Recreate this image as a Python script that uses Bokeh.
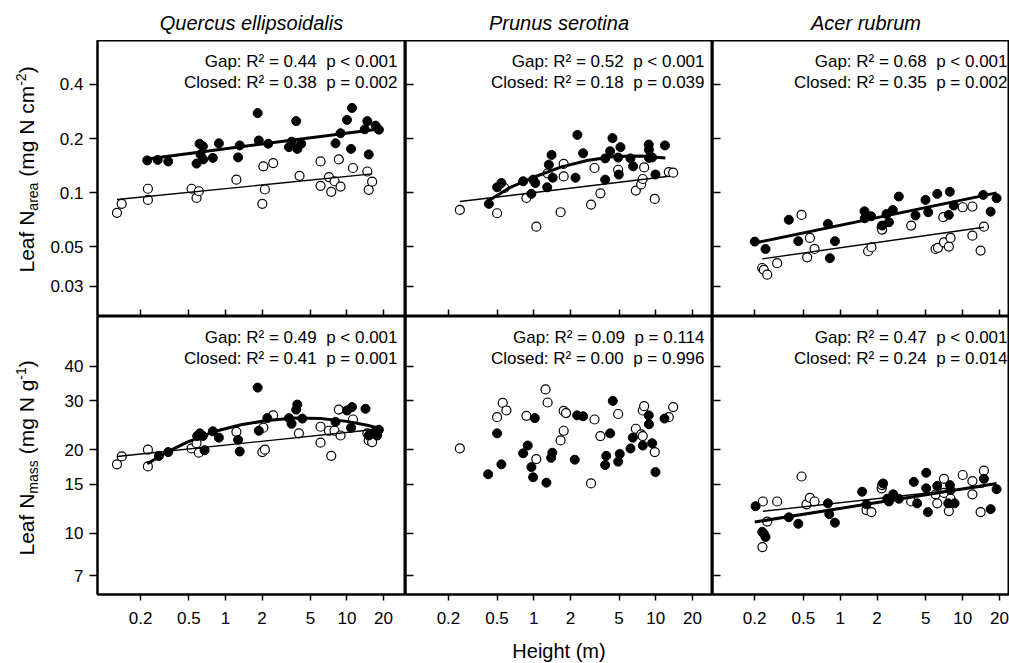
import math
from bokeh.plotting import figure
from bokeh.layouts import row, column
from bokeh.models import FixedTicker, NumeralTickFormatter, Label, Range1d
from bokeh.embed import file_html
from bokeh.resources import INLINE

FONT = "Liberation Sans"
NB = "\u00a0"
BASE_SHIFT = 0.36   # Bokeh draws these labels ~0.36 em lower than the anchor; compensate

# ---------------- data ----------------
species = ["Quercus ellipsoidalis", "Prunus serotina", "Acer rubrum"]
x_ticks = [0.2, 0.5, 1, 2, 5, 10, 20]
area_ticks = [0.03, 0.05, 0.1, 0.2, 0.4]
mass_ticks = [7, 10, 15, 20, 30, 40]
x_title = "Height (m)"

# Quercus ellipsoidalis, Leaf N area
qe_area_gap_h = [0.227, 0.277, 0.338, 0.612, 0.652, 0.578, 0.656, 0.624, 0.787, 0.883, 1.31, 1.27, 1.84, 1.88, 2.25,
                 3.33, 3.50, 3.82, 3.90, 4.20, 8.05, 8.85, 10.0, 11.0, 10.8, 14.7, 14.0, 15.1, 17.2, 18.3]
qe_area_gap_v = [0.151, 0.152, 0.149, 0.187, 0.181, 0.145, 0.153, 0.163, 0.156, 0.188, 0.183, 0.157, 0.277, 0.195, 0.187,
                 0.179, 0.192, 0.250, 0.175, 0.187, 0.188, 0.214, 0.254, 0.296, 0.175, 0.250, 0.225, 0.163, 0.236, 0.224]
qe_area_closed_h = [0.128, 0.140, 0.230, 0.230, 0.526, 0.578, 0.604, 1.23, 2.01, 2.05, 2.11, 2.47, 4.07, 6.06, 6.06,
                    7.10, 7.42, 7.90, 8.57, 8.85, 11.2, 14.7, 15.1, 16.1]
qe_area_closed_v = [0.0771, 0.0865, 0.105, 0.0910, 0.105, 0.0934, 0.1017, 0.118, 0.0865, 0.140, 0.104, 0.146, 0.124,
                    0.149, 0.109, 0.122, 0.101, 0.1156, 0.153, 0.108, 0.137, 0.131, 0.1035, 0.115]
qe_area_gap_fit_h = [0.227, 17.8]
qe_area_gap_fit_v = [0.154, 0.2255]
qe_area_closed_fit_h = [0.128, 16.1]
qe_area_closed_fit_v = [0.0914, 0.127]
qe_area_stats = [("0.44", "< 0.001"), ("0.38", "= 0.002")]

# Prunus serotina, Leaf N area
ps_area_gap_h = [0.429, 0.501, 0.543, 0.819, 0.989, 1.03, 0.957, 1.29, 1.33, 1.40, 1.43, 2.20, 2.28, 2.54, 3.85, 3.85,
                 4.23, 4.42, 4.92, 4.98, 5.14, 6.21, 6.53, 8.77, 8.8, 8.8, 9.35, 9.95, 11.9]
ps_area_gap_v = [0.0865, 0.107, 0.113, 0.1156, 0.118, 0.113, 0.0984, 0.107, 0.143, 0.162, 0.121, 0.121, 0.2095, 0.1656,
                 0.118, 0.155, 0.170, 0.201, 0.1567, 0.126, 0.179, 0.155, 0.140, 0.185, 0.173, 0.156, 0.157, 0.126, 0.183]
ps_area_closed_h = [0.248, 0.501, 0.575, 0.871, 1.05, 1.30, 1.66, 1.76, 1.76, 2.95, 3.15, 3.52, 4.92, 6.87, 7.59, 7.83,
                    8.04, 9.82, 12.8, 13.9]
ps_area_closed_v = [0.080, 0.0767, 0.106, 0.0934, 0.0646, 0.128, 0.0777, 0.1445, 0.123, 0.0857, 0.137, 0.099, 0.134,
                    0.1026, 0.111, 0.119, 0.138, 0.0922, 0.130, 0.129]
ps_area_gap_fit_h = [0.429, 0.644, 1.0, 1.66, 2.74, 4.53, 7.5, 12.0]
ps_area_gap_fit_v = [0.0902, 0.107, 0.1217, 0.1385, 0.1508, 0.159, 0.160, 0.156]
ps_area_closed_fit_h = [0.248, 12.8]
ps_area_closed_fit_v = [0.0891, 0.1233]
ps_area_stats = [("0.52", "< 0.001"), ("0.18", "= 0.039")]

# Acer rubrum, Leaf N area
ar_area_gap_h = [0.201, 0.246, 0.381, 0.455, 0.794, 0.824, 0.906, 1.58, 1.59, 1.79, 2.20, 2.39, 2.50, 2.69, 3.01, 4.12,
                 4.97, 5.23, 6.20, 7.71, 7.86, 8.47, 14.7, 16.9, 18.9]
ar_area_gap_v = [0.0533, 0.0485, 0.0705, 0.0536, 0.0669, 0.0431, 0.0536, 0.0787, 0.0719, 0.0738, 0.0655, 0.0760,
                 0.0683, 0.080, 0.095, 0.0745, 0.091, 0.0777, 0.0984, 0.0751, 0.101, 0.0847, 0.097, 0.0783, 0.093]
ar_area_closed_h = [0.231, 0.238, 0.254, 0.306, 0.484, 0.538, 0.566, 0.618, 1.69, 1.80, 2.18, 2.2, 3.80, 6.01, 6.28,
                    6.94, 7.03, 7.71, 7.96, 10.0, 12.0, 12.0, 14.0, 14.9]
ar_area_closed_v = [0.038, 0.0371, 0.0349, 0.0404, 0.0751, 0.0436, 0.0559, 0.0485, 0.0471, 0.0496, 0.0641, 0.0622,
                    0.0655, 0.0485, 0.0492, 0.0729, 0.0528, 0.050, 0.0559, 0.0828, 0.0836, 0.0575, 0.0475, 0.0646]
ar_area_gap_fit_h = [0.201, 18.9]
ar_area_gap_fit_v = [0.0524, 0.0996]
ar_area_closed_fit_h = [0.231, 14.9]
ar_area_closed_fit_v = [0.0427, 0.0641]
ar_area_stats = [("0.68", "< 0.001"), ("0.35", "= 0.002")]

# Quercus ellipsoidalis, Leaf N mass
qe_mass_gap_h = [0.283, 0.338, 0.585, 0.615, 0.652, 0.673, 0.787, 0.883, 1.27, 1.31, 1.84, 1.88, 2.21, 3.33, 3.50,
                 3.90, 3.82, 4.29, 8.05, 10.0, 11.0, 10.8, 14.2, 15.1, 17.7, 18.3, 16.6]
qe_mass_gap_v = [18.97, 19.6, 22.4, 22.9, 22.4, 19.9, 23.3, 22.1, 21.7, 19.7, 33.5, 23.4, 26.0, 26.0, 24.8, 29.1, 27.9,
                 25.9, 25.2, 27.7, 28.5, 24.0, 28.1, 22.5, 22.5, 23.6, 23.0]
qe_mass_closed_h = [0.128, 0.140, 0.230, 0.230, 0.526, 0.578, 0.604, 1.23, 2.01, 2.05, 2.11, 2.47, 4.02, 6.06, 6.06,
                    7.10, 7.42, 7.90, 8.57, 8.85, 11.2, 14.7, 15.1, 16.1]
qe_mass_closed_v = [17.7, 18.9, 20.0, 17.4, 20.2, 21.1, 19.5, 23.2, 19.6, 24.0, 20.0, 26.6, 22.9, 24.2, 21.2, 23.4,
                    19.0, 23.4, 27.9, 22.5, 25.7, 22.9, 21.6, 21.3]
qe_mass_gap_fit_h = [0.227, 0.330, 0.484, 0.797, 1.34, 2.21, 3.66, 6.06, 10.0, 14.7, 18.9]
qe_mass_gap_fit_v = [17.8, 19.6, 21.3, 23.2, 24.6, 25.5, 26.0, 25.9, 25.3, 24.5, 23.8]
qe_mass_closed_fit_h = [0.128, 16.1]
qe_mass_closed_fit_v = [18.9, 23.6]
qe_mass_stats = [("0.49", "< 0.001"), ("0.41", "= 0.001")]

# Prunus serotina, Leaf N mass
ps_mass_gap_h = [0.423, 0.501, 0.543, 0.819, 0.893, 0.957, 0.989, 1.02, 1.27, 1.39, 1.42, 2.17, 2.27, 2.54, 3.85, 3.93,
                 4.23, 4.45, 4.92, 5.07, 6.21, 6.48, 7.83, 8.77, 8.8, 9.35, 9.95, 11.8]
ps_mass_gap_v = [16.3, 22.9, 17.7, 19.4, 20.7, 17.3, 15.9, 26.0, 15.2, 18.7, 19.5, 18.4, 26.6, 26.4, 17.6, 19.0, 22.9,
                 30.0, 18.1, 19.3, 20.2, 22.1, 20.7, 26.6, 24.7, 21.1, 16.6, 25.9]
ps_mass_closed_h = [0.248, 0.501, 0.557, 0.597, 0.871, 1.05, 1.25, 1.30, 1.66, 1.76, 1.76, 1.84, 2.95, 3.15, 3.52, 4.92,
                    6.87, 7.59, 7.83, 7.83, 8.04, 9.82, 12.8, 13.9]
ps_mass_closed_v = [20.2, 26.2, 29.5, 27.7, 26.5, 18.5, 33.0, 29.6, 21.6, 23.4, 27.6, 27.1, 15.1, 25.7, 22.4, 26.9,
                    23.8, 22.7, 22.4, 27.7, 28.7, 19.6, 26.2, 28.5]
ps_mass_stats = [("0.09", "= 0.114"), ("0.00", "= 0.996")]

# Acer rubrum, Leaf N mass
ar_mass_gap_h = [0.204, 0.231, 0.238, 0.246, 0.381, 0.455, 0.794, 0.815, 0.906, 1.51, 1.64, 2.24, 2.42, 2.50, 2.71,
                 3.01, 3.99, 4.25, 5.04, 5.04, 5.20, 6.20, 7.62, 7.86, 7.96, 8.59, 14.9, 16.9, 18.9]
ar_mass_gap_v = [12.5, 10.1, 9.95, 9.68, 11.4, 10.8, 12.8, 11.7, 10.9, 14.1, 12.7, 15.1, 13.3, 13.0, 13.8, 13.3, 15.3,
                 12.8, 16.5, 14.5, 11.9, 14.8, 12.8, 14.9, 14.3, 12.8, 15.7, 12.2, 14.4]
ar_mass_closed_h = [0.234, 0.232, 0.254, 0.306, 0.484, 0.531, 0.566, 0.618, 1.64, 1.80, 2.18, 2.2, 3.80, 6.01, 6.20,
                    7.03, 7.03, 7.71, 7.96, 10.0, 12.0, 12.0, 14.0, 14.9]
ar_mass_closed_v = [13.0, 8.9, 11.0, 13.0, 16.0, 12.7, 13.4, 13.0, 12.1, 11.9, 14.5, 14.9, 13.0, 13.8, 12.8, 15.7,
                    13.96, 12.0, 13.3, 16.2, 15.4, 13.8, 11.9, 16.8]
ar_mass_gap_fit_h = [0.201, 18.9]
ar_mass_gap_fit_v = [10.96, 15.1]
ar_mass_closed_fit_h = [0.234, 14.9]
ar_mass_closed_fit_v = [11.98, 14.7]
ar_mass_stats = [("0.47", "< 0.001"), ("0.24", "= 0.014")]

# ---------------- layout ----------------
LEFT_W = 45            # strip holding the y-axis titles
TOP_H = 40             # strip holding the species names
BOTTOM_H = 30          # strip holding the x-axis title
COL_W = [360, 307, 297]
COL_BORDER = [52, 0, 0]
ROW_H = [276, 317]
ROW_BORDER_BOTTOM = [0, 39]
X_RANGES = [(0.0885, 30.3), (0.0889, 29.2), (0.0908, 24.1)]
COL_FULL_W = [308, 307, 307]    # width each panel would have if not cropped at the page edge
Y_RANGES = [(0.0204, 0.703), (6.0, 60.5)]
Y_TICKS = [area_ticks, mass_ticks]
STAT_SIZE = 17


def stat_lines(stats):
    (r_gap, p_gap), (r_cl, p_cl) = stats
    return [f"Gap: R\u00b2 = {r_gap}{NB}{NB}p {p_gap}", f"Closed: R\u00b2 = {r_cl}{NB}{NB}p {p_cl}"]


def make_panel(r, c, gap, closed, gap_fit, closed_fit, stats):
    p = figure(width=COL_W[c], height=ROW_H[r],
               x_axis_type="log", y_axis_type="log",
               x_range=X_RANGES[c], y_range=Y_RANGES[r],
               output_backend="svg", toolbar_location=None, title=None,
               min_border_left=COL_BORDER[c], min_border_right=0,
               min_border_top=0, min_border_bottom=ROW_BORDER_BOTTOM[r],
               background_fill_color="white", border_fill_color="white")
    p.grid.visible = False
    p.outline_line_color = "black"
    p.outline_line_width = 2

    xa = p.xaxis[0]
    xa.ticker = FixedTicker(ticks=x_ticks, minor_ticks=[])
    xa.axis_line_width = 2
    xa.major_tick_line_width = 1.5
    xa.minor_tick_in = 0
    xa.minor_tick_out = 0
    if r == 0:
        xa.major_tick_in = 7
        xa.major_tick_out = 0
        xa.major_label_overrides = {t: "" for t in x_ticks}
        xa.major_label_text_font_size = "0px"
        xa.major_label_standoff = 0
    else:
        xa.major_tick_in = 0
        xa.major_tick_out = 6
        xa.formatter = NumeralTickFormatter(format="0.[00]")
        xa.major_label_text_font = FONT
        xa.major_label_text_font_size = "17px"
        xa.major_label_text_color = "black"
        xa.major_label_standoff = 11

    ya = p.yaxis[0]
    ya.ticker = FixedTicker(ticks=Y_TICKS[r], minor_ticks=[])
    ya.axis_line_width = 2
    ya.major_tick_line_width = 1.5
    ya.minor_tick_in = 0
    ya.minor_tick_out = 0
    if c == 0:
        ya.major_tick_in = 0
        ya.major_tick_out = 8
        ya.formatter = NumeralTickFormatter(format="0.[00]")
        ya.major_label_text_font = FONT
        ya.major_label_text_font_size = "17px"
        ya.major_label_text_color = "black"
        ya.major_label_standoff = 6
    else:
        ya.major_tick_in = 8
        ya.major_tick_out = 0
        ya.major_label_overrides = {t: "" for t in Y_TICKS[r]}
        ya.major_label_text_font_size = "0px"
        ya.major_label_standoff = 0

    p.scatter(closed[0], closed[1], marker="circle", size=9, fill_color="white",
              line_color="black", line_width=1.2)
    p.scatter(gap[0], gap[1], marker="circle", size=9, fill_color="black",
              line_color="black", line_width=1)
    if closed_fit is not None:
        p.line(closed_fit[0], closed_fit[1], line_width=1.4, line_color="black")
    if gap_fit is not None:
        p.line(gap_fit[0], gap_fit[1], line_width=3, line_color="black")

    xe = X_RANGES[c][1]
    x_off = -8 if c < 2 else -2
    shift = BASE_SHIFT * STAT_SIZE
    for txt, yoff in zip(stat_lines(stats), [-27, -48]):
        p.add_layout(Label(x=xe, y=Y_RANGES[r][1], x_offset=x_off, y_offset=yoff + shift, text=txt,
                           text_align="right", text_baseline="alphabetic", text_font=FONT,
                           text_font_size=f"{STAT_SIZE}px", text_color="black"))
    return p


def strip(width, height):
    s = figure(width=width, height=height, output_backend="svg", toolbar_location=None, title=None,
               x_axis_location=None, y_axis_location=None,
               x_range=Range1d(0, width), y_range=Range1d(height, 0),
               min_border_left=0, min_border_right=0, min_border_top=0, min_border_bottom=0,
               background_fill_color="white", border_fill_color="white")
    s.grid.visible = False
    s.outline_line_color = None
    return s


# Arial / Liberation Sans advance widths (per 1000 em)
ADV = {"L": 556, "e": 556, "a": 556, "f": 278, " ": 278, "N": 722, "r": 333, "m": 833, "s": 500,
       "(": 333, ")": 333, "g": 556, "c": 500, "-": 333, "1": 556, "2": 556}


def text_width(s, size):
    return sum(ADV.get(ch, 556) for ch in s) * size / 1000.0


def add_ylabel(s, pieces, start_y, base_x=34):
    pos = start_y
    for txt, kind in pieces:
        size = 21 if kind == "n" else 14
        dx = {"n": 0, "sub": 4, "sup": -8}[kind]
        s.add_layout(Label(x=base_x + dx - BASE_SHIFT * size, y=pos, text=txt.replace(" ", NB),
                           angle=math.pi / 2, text_align="left", text_baseline="alphabetic",
                           text_font=FONT, text_font_size=f"{size}px", text_color="black"))
        pos -= text_width(txt, size)


panels = [
    make_panel(0, 0, (qe_area_gap_h, qe_area_gap_v), (qe_area_closed_h, qe_area_closed_v),
               (qe_area_gap_fit_h, qe_area_gap_fit_v), (qe_area_closed_fit_h, qe_area_closed_fit_v), qe_area_stats),
    make_panel(0, 1, (ps_area_gap_h, ps_area_gap_v), (ps_area_closed_h, ps_area_closed_v),
               (ps_area_gap_fit_h, ps_area_gap_fit_v), (ps_area_closed_fit_h, ps_area_closed_fit_v), ps_area_stats),
    make_panel(0, 2, (ar_area_gap_h, ar_area_gap_v), (ar_area_closed_h, ar_area_closed_v),
               (ar_area_gap_fit_h, ar_area_gap_fit_v), (ar_area_closed_fit_h, ar_area_closed_fit_v), ar_area_stats),
    make_panel(1, 0, (qe_mass_gap_h, qe_mass_gap_v), (qe_mass_closed_h, qe_mass_closed_v),
               (qe_mass_gap_fit_h, qe_mass_gap_fit_v), (qe_mass_closed_fit_h, qe_mass_closed_fit_v), qe_mass_stats),
    make_panel(1, 1, (ps_mass_gap_h, ps_mass_gap_v), (ps_mass_closed_h, ps_mass_closed_v),
               None, None, ps_mass_stats),
    make_panel(1, 2, (ar_mass_gap_h, ar_mass_gap_v), (ar_mass_closed_h, ar_mass_closed_v),
               (ar_mass_gap_fit_h, ar_mass_gap_fit_v), (ar_mass_closed_fit_h, ar_mass_closed_fit_v), ar_mass_stats),
]

# frame left edges (in strip coordinates, i.e. right of the left strip)
frame_left = [COL_BORDER[0], COL_W[0], COL_W[0] + COL_W[1]]
grid_w = sum(COL_W)

# species names
TITLE_SIZE = 20
top = strip(grid_w, TOP_H)
for c in range(3):
    top.add_layout(Label(x=frame_left[c] + COL_FULL_W[c] / 2, y=TOP_H - 10 - BASE_SHIFT * TITLE_SIZE,
                         text=species[c], text_align="center", text_baseline="alphabetic", text_font=FONT,
                         text_font_style="italic", text_font_size=f"{TITLE_SIZE}px", text_color="black"))

# x-axis title under the middle column
bottom = strip(grid_w, BOTTOM_H)
bottom.add_layout(Label(x=frame_left[1] + COL_FULL_W[1] / 2, y=BOTTOM_H - 5 - BASE_SHIFT * TITLE_SIZE,
                        text=x_title, text_align="center", text_baseline="alphabetic", text_font=FONT,
                        text_font_size=f"{TITLE_SIZE}px", text_color="black"))

# y-axis titles
total_h = TOP_H + sum(ROW_H) + BOTTOM_H
left = strip(LEFT_W, total_h)
row0_bottom = TOP_H + ROW_H[0]
row1_bottom = TOP_H + ROW_H[0] + ROW_H[1] - ROW_BORDER_BOTTOM[1]
add_ylabel(left, [("Leaf N", "n"), ("area", "sub"), (" (mg N cm", "n"), ("-2", "sup"), (")", "n")], row0_bottom - 44)
add_ylabel(left, [("Leaf N", "n"), ("mass", "sub"), (" (mg N g", "n"), ("-1", "sup"), (")", "n")], row1_bottom - 39)

layout = row(left, column(top, row(*panels[:3]), row(*panels[3:]), bottom))

open("out.html", "w").write(file_html(layout, INLINE))
